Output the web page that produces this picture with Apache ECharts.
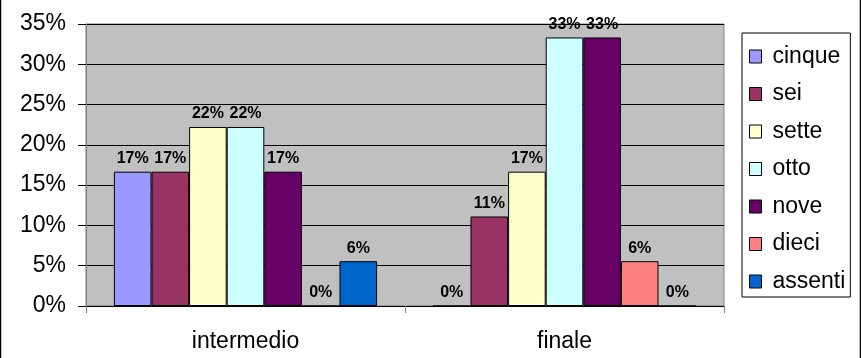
<!DOCTYPE html>
<html>
<head>
<meta charset="utf-8">
<script src="https://cdn.jsdelivr.net/npm/echarts@6/dist/echarts.min.js"></script>
<style>
html,body{margin:0;padding:0;background:#fff;}
#c{width:861px;height:358px;}
</style>
</head>
<body>
<div id="c"></div>
<script>
const categories = ['intermedio', 'finale'];
const seriesNames = ['cinque', 'sei', 'sette', 'otto', 'nove', 'dieci', 'assenti'];
const cinque = [16.67, 0];
const sei = [16.67, 11.11];
const sette = [22.22, 16.67];
const otto = [22.22, 33.33];
const nove = [16.67, 33.33];
const dieci = [0, 5.56];
const assenti = [5.56, 0];
const yTicks = [0, 5, 10, 15, 20, 25, 30, 35];
const colors = ['#9999FF', '#993366', '#FFFFCC', '#CCFFFF', '#660066', '#FF8080', '#0066CC'];

const values = [cinque, sei, sette, otto, nove, dieci, assenti];
const FONT = 'Arial, "Liberation Sans", sans-serif';

const chart = echarts.init(document.getElementById('c'), null, {renderer: 'canvas'});
chart.setOption({
  animation: false,
  backgroundColor: '#fff',
  textStyle: {fontFamily: FONT},
  grid: {
    left: 86, top: 24, width: 638, height: 282,
    show: true, backgroundColor: '#C0C0C0', borderColor: '#808080', borderWidth: 1
  },
  legend: {
    orient: 'vertical',
    left: 742, top: 33,
    width: 112,
    padding: [12, 5, 4, 7],
    itemGap: 14.5,
    itemWidth: 12, itemHeight: 13,
    borderColor: '#000', borderWidth: 1,
    backgroundColor: '#fff',
    icon: 'rect',
    textStyle: {fontFamily: FONT, fontSize: 23, color: '#000', padding: [0, 0, 0, 6]},
    data: seriesNames.map((n, i) => ({name: n, itemStyle: {color: colors[i], borderColor: '#000', borderWidth: 1}}))
  },
  xAxis: {
    type: 'category',
    data: categories,
    axisLine: {show: true, lineStyle: {color: '#000', width: 1}},
    axisTick: {show: true, length: 7, lineStyle: {color: '#808080'}},
    axisLabel: {fontFamily: FONT, fontSize: 23, color: '#000', margin: 24},
    splitLine: {show: false}
  },
  yAxis: {
    type: 'value',
    min: 0, max: 35, interval: 5,
    axisLine: {show: true, lineStyle: {color: '#808080'}},
    axisTick: {show: true, length: 8, lineStyle: {color: '#000'}},
    axisLabel: {fontFamily: FONT, fontSize: 23, color: '#000', margin: 20,
      formatter: v => yTicks.includes(v) ? v + '%' : ''},
    splitLine: {show: true, lineStyle: {color: '#000', width: 1}}
  },
  series: seriesNames.map((n, i) => ({
    name: n,
    type: 'bar',
    data: values[i],
    barGap: '0%',
    barCategoryGap: '17.5%',
    itemStyle: {color: colors[i], borderColor: '#000', borderWidth: 1},
    label: {
      show: true, position: 'top', distance: 5,
      fontFamily: FONT, fontSize: 16, fontWeight: 'bold', color: '#000',
      formatter: p => Math.round(p.value) + '%'
    }
  })),
  graphic: [
    {type: 'line', shape: {x1: 0.5, y1: 0, x2: 0.5, y2: 358}, style: {stroke: '#000', lineWidth: 1.5}},
    {type: 'line', shape: {x1: 860.5, y1: 0, x2: 860.5, y2: 358}, style: {stroke: '#000', lineWidth: 1.5}}
  ]
});
</script>
</body>
</html>
